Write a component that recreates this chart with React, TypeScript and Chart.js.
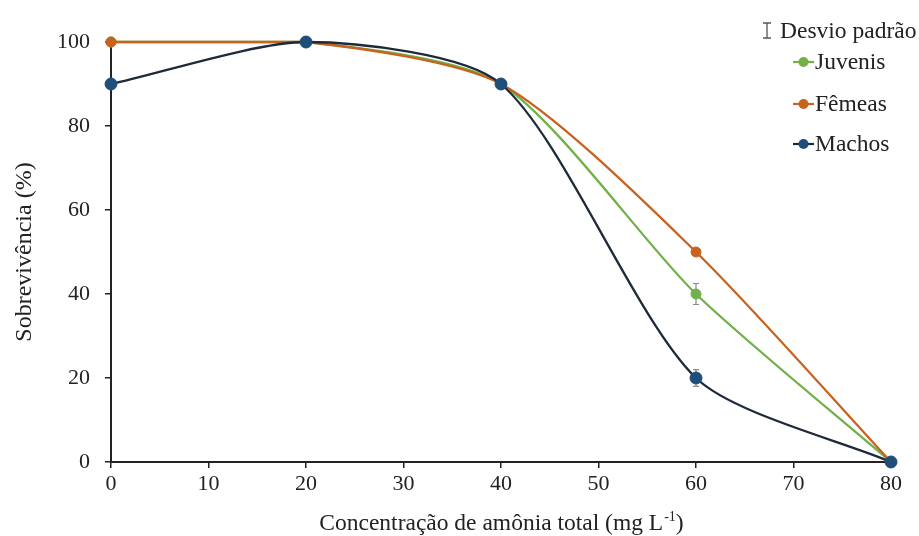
import React, { useEffect, useRef } from "react";
import { Chart, registerables } from "chart.js";

Chart.register(...registerables);

const concentrations = [0, 20, 40, 60, 80];
const juvenis = [100, 100, 90, 40, 0];
const femeas = [100, 100, 90, 50, 0];
const machos = [90, 100, 90, 20, 0];
const errJuvenis = [0, 0, 0, 2.5, 0];
const errFemeas = [0, 0, 0, 0, 0];
const errMachos = [0, 0, 0, 2, 0];
const legendTitle = "Desvio padrão";
const seriesNames = ["Juvenis", "Fêmeas", "Machos"];
const xTitle = "Concentração de amônia total (mg L";
const yTitle = "Sobrevivência (%)";

const GREEN = "#72B04A";
const ORANGE = "#C8621C";
const BLUE_PT = "#1F4E79";
const BLUE_LN = "#1E2A3A";
const FONT = "'Liberation Serif', 'Times New Roman', serif";

export default function App() {
  const ref = useRef<HTMLCanvasElement | null>(null);
  useEffect(() => {
    if (!ref.current) return;
    const toPts = (arr: number[]) => concentrations.map((x, i) => ({ x, y: arr[i] }));
    const errors = [errJuvenis, errFemeas, errMachos];

    const errorPlugin = {
      id: "errbars",
      beforeDatasetsDraw(chart: any) {
        const { ctx, scales } = chart;
        ctx.save();
        ctx.strokeStyle = "#8a8a8a";
        ctx.lineWidth = 1.2;
        errors.forEach((errArr, di) => {
          const vals = chart.data.datasets[di].data as any[];
          errArr.forEach((e, i) => {
            if (!e) return;
            const px = scales.x.getPixelForValue(vals[i].x);
            const yt = scales.y.getPixelForValue(vals[i].y + e);
            const yb = scales.y.getPixelForValue(vals[i].y - e);
            ctx.beginPath();
            ctx.moveTo(px, yt); ctx.lineTo(px, yb);
            ctx.moveTo(px - 3, yt); ctx.lineTo(px + 3, yt);
            ctx.moveTo(px - 3, yb); ctx.lineTo(px + 3, yb);
            ctx.stroke();
          });
        });
        ctx.restore();
      },
    };

    const legendPlugin = {
      id: "customLegend",
      afterDraw(chart: any) {
        const { ctx } = chart;
        ctx.save();
        ctx.font = `23.5px ${FONT}`;
        ctx.textBaseline = "middle";
        ctx.textAlign = "left";
        ctx.fillStyle = "#222";
        ctx.strokeStyle = "#555";
        ctx.lineWidth = 1.3;
        ctx.beginPath();
        ctx.moveTo(767, 23); ctx.lineTo(767, 38);
        ctx.moveTo(763, 23); ctx.lineTo(771, 23);
        ctx.moveTo(763, 38); ctx.lineTo(771, 38);
        ctx.stroke();
        ctx.fillText(legendTitle, 780, 32);
        const cols = [[GREEN, GREEN], [ORANGE, ORANGE], [BLUE_LN, BLUE_PT]];
        const ys = [62, 104, 144];
        seriesNames.forEach((n, i) => {
          const y = ys[i];
          ctx.strokeStyle = cols[i][0];
          ctx.lineWidth = 2.2;
          ctx.beginPath();
          ctx.moveTo(793, y); ctx.lineTo(814, y);
          ctx.stroke();
          ctx.fillStyle = cols[i][1];
          ctx.beginPath();
          ctx.arc(803.5, y, 5, 0, Math.PI * 2);
          ctx.fill();
          ctx.fillStyle = "#222";
          ctx.fillText(n, 815, y + 1);
        });
        ctx.textBaseline = "alphabetic";
        const main = xTitle;
        const sup = "-1";
        const close = ")";
        ctx.font = `23.5px ${FONT}`;
        const w1 = ctx.measureText(main).width;
        ctx.font = `14px ${FONT}`;
        const w2 = ctx.measureText(sup).width;
        ctx.font = `23.5px ${FONT}`;
        const w3 = ctx.measureText(close).width;
        const total = w1 + w2 + w3;
        const cx = (chart.chartArea.left + chart.chartArea.right) / 2;
        const x0 = cx - total / 2;
        const base = 530;
        ctx.fillText(main, x0, base);
        ctx.font = `14px ${FONT}`;
        ctx.fillText(sup, x0 + w1 + 1, base - 9);
        ctx.font = `23.5px ${FONT}`;
        ctx.fillText(close, x0 + w1 + w2 + 1, base);
        ctx.restore();
      },
    };

    const chart = new Chart(ref.current, {
      type: "line",
      data: {
        datasets: [
          { label: seriesNames[0], data: toPts(juvenis), borderColor: GREEN, backgroundColor: GREEN, pointBackgroundColor: GREEN, pointBorderColor: GREEN, pointRadius: 5, order: 3 },
          { label: seriesNames[1], data: toPts(femeas), borderColor: ORANGE, backgroundColor: ORANGE, pointBackgroundColor: ORANGE, pointBorderColor: ORANGE, pointRadius: 5, order: 2 },
          { label: seriesNames[2], data: toPts(machos), borderColor: BLUE_LN, backgroundColor: BLUE_PT, pointBackgroundColor: BLUE_PT, pointBorderColor: BLUE_PT, pointRadius: 6, order: 1 },
        ] as any,
      },
      options: {
        animation: false,
        responsive: true,
        maintainAspectRatio: false,
        clip: false as any,
        layout: { padding: { top: 42, right: 28, left: 0, bottom: 0 } },
        elements: {
          line: { tension: 0.25, borderWidth: 2.3, cubicInterpolationMode: "default" },
          point: { borderWidth: 1, hoverRadius: 5 },
        },
        plugins: { legend: { display: false }, tooltip: { enabled: false } },
        scales: {
          x: {
            type: "linear",
            min: 0,
            max: 80,
            afterFit(s: any) { s.height = 74; },
            ticks: { stepSize: 10, color: "#222", font: { family: FONT, size: 22 }, padding: 3 },
            grid: { drawOnChartArea: false, drawTicks: true, tickLength: 6, color: "#222", lineWidth: 1.5 },
            border: { color: "#222", width: 2 },
          },
          y: {
            min: 0,
            max: 100,
            afterFit(s: any) { s.width = 111; },
            ticks: { stepSize: 20, color: "#222", font: { family: FONT, size: 22 }, padding: 15 },
            grid: { drawOnChartArea: false, drawTicks: true, tickLength: 6, color: "#222", lineWidth: 1.5 },
            border: { color: "#222", width: 2 },
            title: { display: true, text: yTitle, color: "#222", font: { family: FONT, size: 24 }, padding: { top: 10, bottom: 0 } },
          },
        },
      } as any,
      plugins: [errorPlugin, legendPlugin],
    });
    return () => chart.destroy();
  }, []);
  return (
    <div style={{ position: "fixed", left: 0, top: 0, width: 919, height: 536, background: "#fff" }}>
      <canvas ref={ref} />
    </div>
  );
}
